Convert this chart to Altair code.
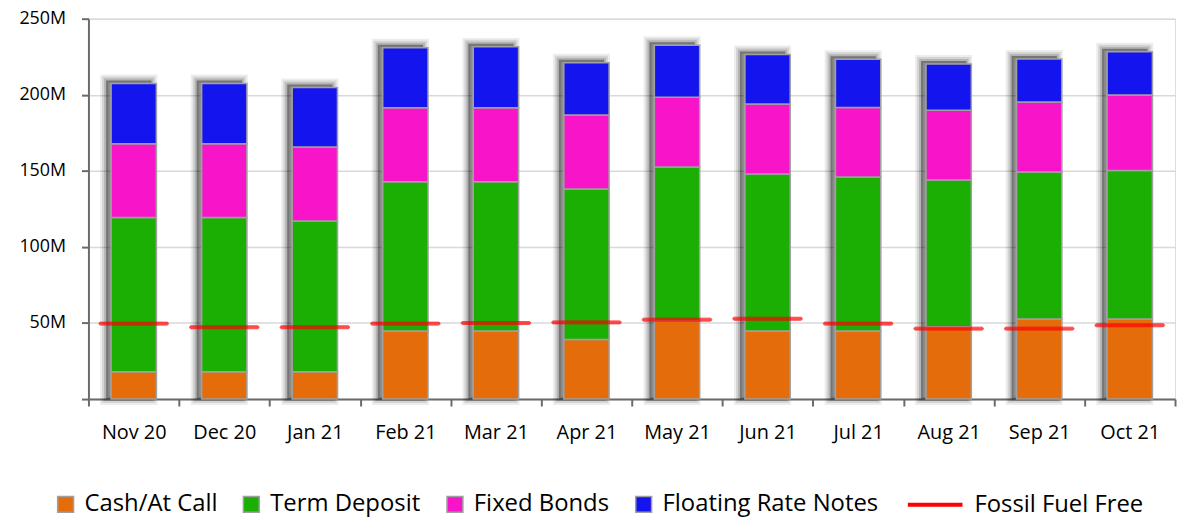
import altair as alt
import pandas as pd

months = ["Nov 20", "Dec 20", "Jan 21", "Feb 21", "Mar 21", "Apr 21",
          "May 21", "Jun 21", "Jul 21", "Aug 21", "Sep 21", "Oct 21"]
cash = [18.0, 18.0, 18.0, 44.8, 44.8, 39.1, 51.7, 44.8, 44.8, 47.5, 52.6, 52.6]
term = [101.3, 101.3, 99.0, 98.0, 98.0, 98.9, 100.9, 103.2, 101.1, 96.4, 96.7, 97.6]
fixed = [48.5, 48.5, 48.7, 48.7, 48.7, 48.7, 45.7, 45.9, 45.8, 45.9, 45.9, 49.6]
frn = [39.6, 39.6, 39.1, 39.4, 40.0, 34.3, 34.3, 32.6, 31.6, 30.4, 28.3, 28.5]
fossil = [49.6, 47.2, 47.2, 49.6, 50.0, 50.4, 52.2, 52.8, 49.6, 46.3, 46.3, 48.5]

series = ["Cash/At Call", "Term Deposit", "Fixed Bonds", "Floating Rate Notes"]
colors = ["#E46C0A", "#1AAF02", "#F815C9", "#1414EF"]
line_label = ["Fossil Fuel Free"]
line_color = ["#FF0000"]
y_ticks = [0, 50, 100, 150, 200, 250]

rows = []
for vals, name, k in zip([cash, term, fixed, frn], series, range(4)):
    for m, v in zip(months, vals):
        rows.append({"Month": m, "Series": name, "Value": v, "Order": k})
df = pd.DataFrame(rows)
dfl = pd.DataFrame({"Month": months, "Fossil": fossil, "Label": line_label * len(months)})

FONT = "Open Sans"

x_enc = alt.X("Month:N", sort=months, title=None,
              scale=alt.Scale(paddingInner=0, paddingOuter=0),
              axis=alt.Axis(labelAngle=0, tickBand="extent", labelFontSize=20,
                            labelFont=FONT, labelColor="#000000", labelPadding=17,
                            tickSize=7, tickColor="#6b6b6b", tickWidth=2,
                            domainColor="#6b6b6b", domainWidth=2, grid=False))
y_scale = alt.Scale(domain=[0, 250], nice=False)


def shadow(sw, op, fop):
    return alt.Chart(df).mark_bar(
        width=alt.RelativeBandSize(0.5), xOffset=-5, yOffset=-3,
        fill="#000000", fillOpacity=fop, stroke="#000000", strokeOpacity=op, strokeWidth=sw
    ).encode(x=x_enc, y=alt.Y("sum(Value):Q", scale=y_scale, title=None))


shadows = [shadow(12, 0.07, 0.0), shadow(8, 0.10, 0.0), shadow(4, 0.15, 0.35)]

bars = alt.Chart(df).mark_bar(
    width=alt.RelativeBandSize(0.5), stroke="#a0a0a0", strokeWidth=1.5
).encode(
    x=x_enc,
    y=alt.Y("Value:Q", stack="zero", scale=y_scale, title=None,
            axis=alt.Axis(values=y_ticks, labelExpr="datum.value == 0 ? '' : datum.value + 'M'",
                          labelFontSize=18, labelFont=FONT, labelColor="#000000",
                          labelPadding=16, tickSize=7, tickColor="#6b6b6b", tickWidth=2,
                          domainColor="#6b6b6b", domainWidth=2,
                          gridColor="#d9d9d9", gridWidth=1.5)),
    fill=alt.Fill("Series:N", sort=series,
                  scale=alt.Scale(domain=series, range=colors),
                  legend=alt.Legend(title=None, orient="none", direction="horizontal",
                                    legendX=-35, legendY=477, symbolType="square",
                                    symbolSize=256, symbolStrokeColor="#a0a0a0",
                                    symbolStrokeWidth=1.5, symbolOpacity=1,
                                    labelFontSize=24, labelFont=FONT, labelColor="#000000",
                                    labelOffset=7, columnPadding=22, labelLimit=400,
                                    padding=0)),
    order=alt.Order("Order:Q"),
)

line = alt.Chart(dfl).mark_tick(
    size=70, thickness=3, fill="#FF0000", strokeWidth=1, cornerRadius=2
).encode(
    x=x_enc,
    y=alt.Y("Fossil:Q", scale=y_scale, title=None),
    stroke=alt.Stroke("Label:N", scale=alt.Scale(domain=line_label, range=line_color),
                      legend=alt.Legend(title=None, orient="none", direction="horizontal",
                                        legendX=823, legendY=460, symbolType="stroke",
                                        symbolSize=3025, symbolStrokeWidth=4,
                                        symbolStrokeColor="#FF0000", symbolOpacity=1,
                                        labelFontSize=24, labelFont=FONT, labelColor="#000000",
                                        labelOffset=10, labelLimit=400, padding=0)),
)

chart = alt.layer(*shadows, bars, line).properties(
    width=1094, height=383,
    autosize=alt.AutoSizeParams(type="none"),
    padding={"left": 81, "top": 9, "right": 3, "bottom": 120},
).configure_view(stroke=None).configure(background="#ffffff")

chart.save("out.html", embed_options={"renderer": "svg", "actions": False})
